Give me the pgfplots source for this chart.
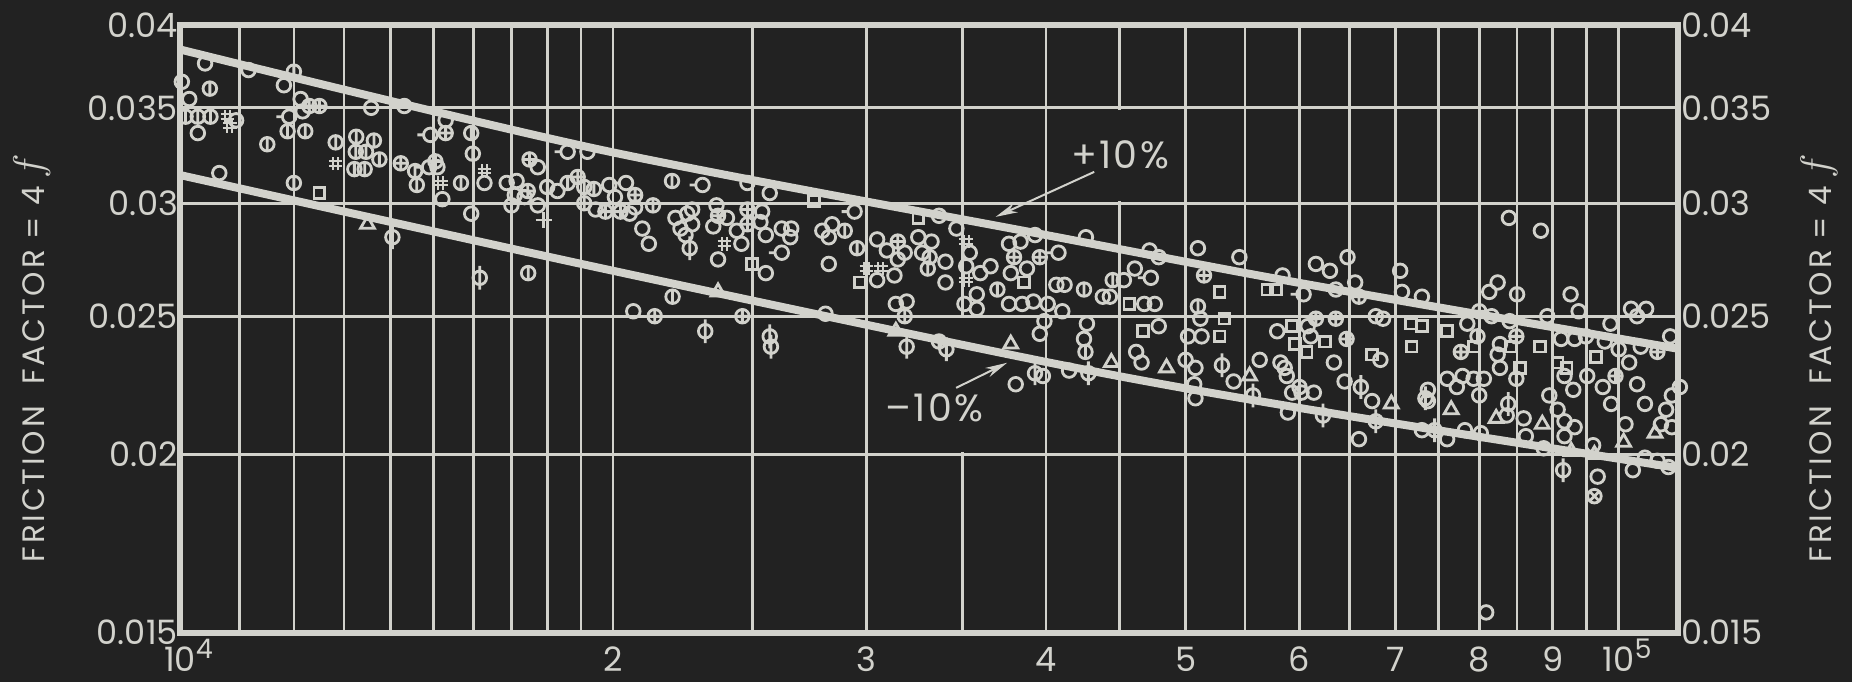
\documentclass[border=0pt]{standalone}
\usepackage{fontspec}
\setmainfont{Poppins}
\usepackage{pgfplots}
\pgfplotsset{compat=1.18}
\usetikzlibrary{arrows.meta}
\definecolor{bgc}{RGB}{34,34,34}
\definecolor{fgc}{RGB}{210,210,204}

\pgfdeclareplotmark{phiv}{%
  \pgfpathcircle{\pgfpointorigin}{\pgfplotmarksize}%
  \pgfpathmoveto{\pgfpoint{0pt}{-\pgfplotmarksize}}%
  \pgfpathlineto{\pgfpoint{0pt}{\pgfplotmarksize}}%
  \pgfusepathqstroke}
\pgfdeclareplotmark{phil}{%
  \pgfpathcircle{\pgfpointorigin}{\pgfplotmarksize}%
  \pgfpathmoveto{\pgfpoint{0pt}{-1.75\pgfplotmarksize}}%
  \pgfpathlineto{\pgfpoint{0pt}{1.75\pgfplotmarksize}}%
  \pgfusepathqstroke}
\pgfdeclareplotmark{oplusm}{%
  \pgfpathcircle{\pgfpointorigin}{\pgfplotmarksize}%
  \pgfpathmoveto{\pgfpoint{0pt}{-\pgfplotmarksize}}%
  \pgfpathlineto{\pgfpoint{0pt}{\pgfplotmarksize}}%
  \pgfpathmoveto{\pgfpoint{-\pgfplotmarksize}{0pt}}%
  \pgfpathlineto{\pgfpoint{\pgfplotmarksize}{0pt}}%
  \pgfusepathqstroke}
\pgfdeclareplotmark{otimesm}{%
  \pgfpathcircle{\pgfpointorigin}{\pgfplotmarksize}%
  \pgfpathmoveto{\pgfpoint{-0.707\pgfplotmarksize}{-0.707\pgfplotmarksize}}%
  \pgfpathlineto{\pgfpoint{0.707\pgfplotmarksize}{0.707\pgfplotmarksize}}%
  \pgfpathmoveto{\pgfpoint{-0.707\pgfplotmarksize}{0.707\pgfplotmarksize}}%
  \pgfpathlineto{\pgfpoint{0.707\pgfplotmarksize}{-0.707\pgfplotmarksize}}%
  \pgfusepathqstroke}
\pgfdeclareplotmark{dasho}{%
  \pgfpathcircle{\pgfpointorigin}{\pgfplotmarksize}%
  \pgfpathmoveto{\pgfpoint{-1.9\pgfplotmarksize}{0pt}}%
  \pgfpathlineto{\pgfpoint{-\pgfplotmarksize}{0pt}}%
  \pgfusepathqstroke}
\pgfdeclareplotmark{hashm}{%
  \pgfpathmoveto{\pgfpoint{-0.35\pgfplotmarksize}{-\pgfplotmarksize}}%
  \pgfpathlineto{\pgfpoint{-0.35\pgfplotmarksize}{\pgfplotmarksize}}%
  \pgfpathmoveto{\pgfpoint{0.35\pgfplotmarksize}{-\pgfplotmarksize}}%
  \pgfpathlineto{\pgfpoint{0.35\pgfplotmarksize}{\pgfplotmarksize}}%
  \pgfpathmoveto{\pgfpoint{-\pgfplotmarksize}{-0.35\pgfplotmarksize}}%
  \pgfpathlineto{\pgfpoint{\pgfplotmarksize}{-0.35\pgfplotmarksize}}%
  \pgfpathmoveto{\pgfpoint{-\pgfplotmarksize}{0.35\pgfplotmarksize}}%
  \pgfpathlineto{\pgfpoint{\pgfplotmarksize}{0.35\pgfplotmarksize}}%
  \pgfusepathqstroke}

\newcommand{\pw}[1]{10\rlap{\smash{\raisebox{0.4em}{\fontsize{13.5}{14}\selectfont #1}}}}
\newcommand{\ytitle}{{\addfontfeature{LetterSpace=9}FRICTION\hspace{0.7em}FACTOR = 4\hspace{0.25em}}\raisebox{0.15ex}{\fontsize{21}{21}\selectfont$f$}}

\begin{document}
\begin{tikzpicture}
\fill[bgc] (-90pt,-24.5pt) rectangle (836.5pt,316.5pt);
\useasboundingbox (-90pt,-24.5pt) rectangle (836.5pt,316.5pt);

% background axis: frame, grid, left and bottom tick labels
\begin{axis}[
  scale only axis, width=749.5pt, height=304pt,
  xmode=log, ymode=log,
  xmin=1e4, xmax=1.1e5, ymin=0.015, ymax=0.04,
  major tick length=0pt, minor tick length=0pt,
  ytick={0.015,0.02,0.025,0.03,0.035,0.04},
  yticklabels={0.015,0.02,0.025,0.03,0.035,0.04},
  axis line style={fgc, line width=3.1pt},
  tick label style={fgc, font=\fontsize{16.8}{17}\selectfont},
  yticklabel style={xshift=2.5pt},
  xtick={10000,11000,12000,13000,14000,15000,16000,17000,18000,19000,20000,25000,30000,35000,40000,45000,50000,55000,60000,65000,70000,75000,80000,85000,90000,95000,100000},
  xticklabels={{\pw{4}},,,,,,,,,,2,,3,,4,,5,,6,,7,,8,,9,,{\pw{5}}},
  xticklabel style={inner sep=1pt, yshift=-6pt},
  xmajorgrids, ymajorgrids, major grid style={fgc, line width=1.35pt},
]
\addplot[bgc, line width=3pt] coordinates {(45000,0.03488) (45000,0.03012)};
\addplot[bgc, line width=3pt] coordinates {(35000,0.02491) (35000,0.02008)};
\end{axis}

% data axis
\begin{axis}[
  scale only axis, width=749.5pt, height=304pt,
  xmode=log, ymode=log,
  xmin=1e4, xmax=1.1e5, ymin=0.015, ymax=0.04,
  major tick length=0pt, minor tick length=0pt,
  ytick={0.015,0.02,0.025,0.03,0.035,0.04},
  yticklabels={0.015,0.02,0.025,0.03,0.035,0.04},
  axis line style={fgc, line width=3.1pt},
  tick label style={fgc, font=\fontsize{16.8}{17}\selectfont},
  yticklabel style={xshift=-2pt},
  hide x axis, axis y line*=right, clip=false,
  every axis plot/.append style={fgc},
]

\addplot[fgc, line width=4pt, smooth] coordinates {(1e4,0.03846) (1.957e4,0.03272) (4.0e4,0.0285) (6.0e4,0.02638) (1.1e5,0.02372)};
\addplot[fgc, line width=4pt, smooth] coordinates {(1e4,0.0314) (1.957e4,0.02703) (4.0e4,0.02322) (6.0e4,0.02156) (1.1e5,0.01957)};

% plain circles
\addplot[only marks, mark=o, mark size=3.4pt, mark options={fgc, line width=1.4pt, solid}] table {
x y
1.041e4 0.0376
1.116e4 0.0372
1.181e4 0.0363
1.003e4 0.0365
1.015e4 0.0355
1.213e4 0.0355
1.217e4 0.0348
1.094e4 0.0343
1.029e4 0.0336
1.358e4 0.0350
1.51e4 0.0318
1.53e4 0.0343
1.522e4 0.0302
1.594e4 0.0295
1.628e4 0.0310
1.687e4 0.0310
1.714e4 0.0311
1.709e4 0.0304
1.70e4 0.0299
1.736e4 0.0303
1.773e4 0.0299
1.773e4 0.0318
1.83e4 0.0306
1.945e4 0.0297
1.92e4 0.0326
1.065e4 0.0315
1.988e4 0.0309
2.006e4 0.0303
2.072e4 0.0298
2.096e4 0.0288
2.118e4 0.0281
2.054e4 0.0295
2.21e4 0.0293
2.252e4 0.0295
2.27e4 0.0297
2.27e4 0.0290
2.246e4 0.0285
2.228e4 0.0288
2.36e4 0.0299
2.348e4 0.0289
2.40e4 0.0293
2.366e4 0.0274
2.456e4 0.0281
2.438e4 0.0287
2.539e4 0.0296
2.532e4 0.0291
2.554e4 0.0285
2.554e4 0.0268
2.48e4 0.0310
2.57e4 0.0305
2.62e4 0.0288
2.66e4 0.0288
2.656e4 0.0284
2.796e4 0.0287
2.84e4 0.0290
2.825e4 0.0284
2.825e4 0.0272
3.052e4 0.0283
3.10e4 0.0278
3.19e4 0.0277
3.155e4 0.0274
3.138e4 0.0267
3.052e4 0.0265
3.37e4 0.0294
3.26e4 0.0284
3.33e4 0.0282
3.28e4 0.0277
3.405e4 0.0273
3.405e4 0.0264
3.465e4 0.0288
3.54e4 0.0277
3.52e4 0.0271
3.60e4 0.0268
3.58e4 0.0259
3.51e4 0.0255
3.58e4 0.0253
3.66e4 0.0271
3.77e4 0.0281
3.84e4 0.0282
3.93e4 0.0285
3.88e4 0.0270
3.78e4 0.0268
3.77e4 0.0255
3.85e4 0.0255
3.92e4 0.0256
2.066e4 0.0252
2.81e4 0.0251
3.145e4 0.0255
3.20e4 0.0256
3.81e4 0.0224
4.263e4 0.0284
4.72e4 0.0278
4.79e4 0.0275
4.61e4 0.0270
4.53e4 0.0265
5.10e4 0.0279
5.45e4 0.0275
4.066e4 0.0263
4.12e4 0.0263
4.01e4 0.0255
4.105e4 0.0252
3.99e4 0.0248
3.96e4 0.0243
4.38e4 0.0258
4.43e4 0.0258
4.68e4 0.0255
4.76e4 0.0255
4.27e4 0.0247
4.25e4 0.0241
4.79e4 0.0246
4.62e4 0.0236
4.66e4 0.0232
4.15e4 0.0229
3.98e4 0.0227
5.12e4 0.0249
5.02e4 0.0242
5.13e4 0.0242
5.0e4 0.0233
5.08e4 0.0230
5.07e4 0.0224
5.08e4 0.0219
5.63e4 0.0233
5.40e4 0.0225
5.84e4 0.0267
5.79e4 0.0244
6.08e4 0.0246
5.82e4 0.0232
5.86e4 0.0230
5.88e4 0.0227
5.93e4 0.0221
6.0e4 0.0223
5.89e4 0.0214
6.48e4 0.0275
6.16e4 0.0272
6.30e4 0.0269
6.36e4 0.0261
6.56e4 0.0264
6.78e4 0.0250
6.86e4 0.0249
7.05e4 0.0269
7.07e4 0.0260
7.30e4 0.0258
7.85e4 0.0247
8.16e4 0.0250
8.40e4 0.0248
8.13e4 0.0260
8.24e4 0.0264
8.39e4 0.0293
8.83e4 0.0287
9.26e4 0.0259
9.38e4 0.0252
9.87e4 0.0247
8.92e4 0.0250
10.2e4 0.0253
10.45e4 0.0253
10.3e4 0.0250
6.11e4 0.0242
6.83e4 0.0233
6.34e4 0.0232
6.45e4 0.0225
6.74e4 0.0218
6.6e4 0.0205
6.02e4 0.0221
6.14e4 0.0221
7.30e4 0.0208
7.6e4 0.0205
7.82e4 0.0208
8.02e4 0.0207
7.37e4 0.0222
7.37e4 0.0218
7.6e4 0.0226
7.79e4 0.0227
7.72e4 0.0223
7.93e4 0.0226
8.06e4 0.0226
8.0e4 0.0220
8.27e4 0.0239
8.24e4 0.0235
8.27e4 0.0230
8.36e4 0.0213
8.59e4 0.0212
8.62e4 0.0206
8.95e4 0.0220
9.07e4 0.0215
9.17e4 0.0211
9.32e4 0.0209
9.17e4 0.0206
8.87e4 0.0202
9.60e4 0.0203
9.67e4 0.0193
8.09e4 0.0155
9.12e4 0.0241
9.32e4 0.0241
9.17e4 0.0227
9.3e4 0.0222
9.49e4 0.0242
9.78e4 0.0240
9.51e4 0.0227
9.75e4 0.0223
9.88e4 0.0217
10.0e4 0.0237
10.17e4 0.0232
10.3e4 0.0224
10.43e4 0.0217
10.11e4 0.0210
10.36e4 0.0238
10.86e4 0.0242
11.03e4 0.0223
10.89e4 0.0220
10.79e4 0.0215
10.7e4 0.0210
10.89e4 0.0209
10.23e4 0.0195
10.43e4 0.0199
10.64e4 0.0198
10.83e4 0.0196
};

% circles with inner vertical bar
\addplot[only marks, mark=phiv, mark size=3.4pt, mark options={fgc, line width=1.4pt, solid}] table {
x y
1.200e4 0.0371
1.049e4 0.0361
1.009e4 0.0345
1.029e4 0.0345
1.050e4 0.0345
1.150e4 0.0330
1.188e4 0.0337
1.222e4 0.0337
1.283e4 0.0331
1.326e4 0.0334
1.364e4 0.0332
1.325e4 0.0326
1.347e4 0.0326
1.376e4 0.0322
1.322e4 0.0317
1.344e4 0.0317
1.457e4 0.0316
1.461e4 0.0309
1.594e4 0.0336
1.598e4 0.0325
1.568e4 0.0310
1.80e4 0.0308
1.86e4 0.0310
1.91e4 0.0308
1.94e4 0.0307
1.20e4 0.0310
1.746e4 0.0268
2.132e4 0.0299
2.198e4 0.0311
2.898e4 0.0287
2.956e4 0.0279
3.32e4 0.0275
3.31e4 0.0270
3.70e4 0.0261
2.2e4 0.0258
3.19e4 0.0250
3.37e4 0.0240
4.45e4 0.0265
4.25e4 0.0261
4.26e4 0.0236
5.10e4 0.0254
8.5e4 0.0259
7.98e4 0.0242
8.49e4 0.0226
};

% circles with long stem
\addplot[only marks, mark=phil, mark size=3.4pt, mark options={fgc, line width=1.4pt, solid}] table {
x y
1.405e4 0.0284
1.616e4 0.0266
2.261e4 0.0279
2.318e4 0.0244
2.57e4 0.0242
2.575e4 0.0238
3.20e4 0.0238
3.41e4 0.0237
3.93e4 0.0228
4.28e4 0.0228
5.30e4 0.0231
5.57e4 0.0220
6.62e4 0.0223
6.78e4 0.0211
6.23e4 0.0213
7.45e4 0.0208
7.34e4 0.0219
8.38e4 0.0217
9.15e4 0.0195
};

% circles with cross
\addplot[only marks, mark=oplusm, mark size=3.4pt, mark options={fgc, line width=1.4pt, solid}] table {
x y
1.230e4 0.0351
1.250e4 0.0351
1.424e4 0.0320
1.505e4 0.0321
1.53e4 0.0336
1.745e4 0.0306
1.75e4 0.0322
1.89e4 0.0313
1.91e4 0.0300
2.072e4 0.0304
1.976e4 0.0296
2.024e4 0.0296
2.366e4 0.0294
2.48e4 0.0297
2.48e4 0.0290
3.155e4 0.0282
3.80e4 0.0275
3.96e4 0.0275
2.138e4 0.0250
2.46e4 0.0250
5.15e4 0.0267
6.16e4 0.0249
6.36e4 0.0249
6.60e4 0.0258
8.0e4 0.0252
6.47e4 0.0241
7.77e4 0.0236
8.49e4 0.0242
9.95e4 0.0227
10.64e4 0.0236
};

% circles with a dash
\addplot[only marks, mark=dasho, mark size=3.4pt, mark options={fgc, line width=1.4pt, solid}] table {
x y
1.191e4 0.0345
1.432e4 0.0351
1.49e4 0.0318
1.493e4 0.0335
1.86e4 0.0326
2.042e4 0.0310
2.308e4 0.0309
2.62e4 0.0277
2.944e4 0.0296
4.08e4 0.0277
4.73e4 0.0266
6.04e4 0.0259
};

% squares
\addplot[only marks, mark=square, mark size=2.7pt, mark options={fgc, line width=1.4pt, solid}] table {
x y
1.25e4 0.0305
2.498e4 0.0272
2.76e4 0.0301
2.97e4 0.0264
3.26e4 0.0293
3.86e4 0.0264
5.28e4 0.0260
4.57e4 0.0255
4.67e4 0.0244
5.32e4 0.0249
5.28e4 0.0242
5.70e4 0.0261
5.78e4 0.0261
5.93e4 0.0246
5.96e4 0.0239
7.17e4 0.0247
7.30e4 0.0246
7.6e4 0.0244
6.25e4 0.0240
6.07e4 0.0236
6.74e4 0.0235
7.18e4 0.0238
7.93e4 0.0238
8.42e4 0.0238
8.54e4 0.0230
8.82e4 0.0238
9.07e4 0.0232
9.2e4 0.0230
9.64e4 0.0234
};

% triangles
\addplot[only marks, mark=triangle, mark size=4pt, mark options={fgc, line width=1.4pt, solid}] table {
x y
1.35e4 0.0290
2.366e4 0.0260
3.145e4 0.0244
3.78e4 0.0239
4.44e4 0.0232
4.85e4 0.0230
5.54e4 0.0227
6.95e4 0.0217
7.65e4 0.0215
8.22e4 0.0212
8.85e4 0.0210
9.27e4 0.0201
9.62e4 0.0200
10.08e4 0.0204
10.6e4 0.0207
};

% hash marks
\addplot[only marks, mark=hashm, mark size=3.4pt, mark options={fgc, line width=1pt, solid}] table {
x y
1.079e4 0.0345
1.083e4 0.0340
1.283e4 0.0320
1.518e4 0.0310
1.628e4 0.0316
2.39e4 0.0281
3.0e4 0.0270
3.07e4 0.0270
3.52e4 0.0282
3.52e4 0.0265
};

% plus
\addplot[only marks, mark=+, mark size=4pt, mark options={fgc, line width=1.4pt}] coordinates {(1.79e4,0.0292)};
% circle with diagonal cross
\addplot[only marks, mark=otimesm, mark size=3.4pt, mark options={fgc, line width=1.4pt}] coordinates {(9.62e4,0.0187)};

% annotations
\node[text=fgc, fill=bgc, inner sep=1pt, font=\fontsize{19}{19}\selectfont] at (axis cs:45030,0.03244) {\addfontfeature{LetterSpace=6}+10\%};
\draw[fgc, line width=1pt, -{Stealth[length=11pt, width=5pt]}] (axis cs:43200,0.03156) -- (axis cs:36900,0.02935);
\node[text=fgc, fill=bgc, inner sep=1pt, font=\fontsize{19}{19}\selectfont] at (axis cs:33450,0.02156) {\addfontfeature{LetterSpace=6}\textendash10\%};
\draw[fgc, line width=1pt, -{Stealth[length=11pt, width=5pt]}] (axis cs:34640,0.02227) -- (axis cs:37580,0.02319);

% axis titles
\node[text=fgc, rotate=90, font=\fontsize{15.5}{16}\selectfont] at (rel axis cs:-0.099,0.452) {\ytitle};
\node[text=fgc, rotate=90, font=\fontsize{15.5}{16}\selectfont] at (rel axis cs:1.094,0.452) {\ytitle};
\end{axis}
\end{tikzpicture}
\end{document}
